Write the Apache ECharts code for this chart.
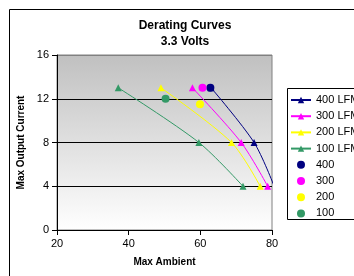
<!DOCTYPE html>
<html><head><meta charset="utf-8">
<script src="https://cdn.jsdelivr.net/npm/echarts@6/dist/echarts.min.js"></script>
<style>html,body{margin:0;padding:0;background:#fff}#c{width:354px;height:276px}</style>
</head><body><div id="c"></div>
<script>
const yLevels = [13, 8, 4];
const lfm400X = [63, 75, 80.6];
const lfm300X = [57.8, 71.4, 78.8];
const lfm200X = [49, 68.7, 76.7];
const lfm100X = [37.1, 59.6, 71.9];
const pointNames = ['400', '300', '200', '100'];
const pointX = [62.8, 60.6, 59.9, 50.3];
const pointY = [13, 13, 11.5, 12];
const lineNames = ['400 LFM', '300 LFM', '200 LFM', '100 LFM'];
const colors = ['#000080', '#FF00FF', '#FFFF00', '#339966'];
const xTicks = [20, 40, 60, 80];
const yTicks = [0, 4, 8, 12, 16];

const FONT = 'Liberation Sans, Arial, sans-serif';
const lineXs = [lfm400X, lfm300X, lfm200X, lfm100X];
const series = [];
lineNames.forEach((n, i) => {
  series.push({
    name: n, type: 'line', smooth: 0.3, clip: true,
    data: lineXs[i].map((x, j) => [x, yLevels[j]]),
    symbol: 'triangle', symbolSize: 7,
    lineStyle: { color: colors[i], width: 1 },
    itemStyle: { color: colors[i] },
    z: 3
  });
});
pointNames.forEach((n, i) => {
  series.push({
    name: n, type: 'scatter',
    data: [[pointX[i], pointY[i]]],
    symbol: 'circle', symbolSize: 8,
    itemStyle: { color: colors[i], opacity: 1 },
    z: 4
  });
});

const chart = echarts.init(document.getElementById('c'));
chart.setOption({
  animation: false,
  backgroundColor: '#fff',
  textStyle: { fontFamily: FONT },
  title: {
    text: 'Derating Curves\n3.3 Volts',
    left: 185, top: 18, textAlign: 'center', padding: 0,
    textStyle: { fontFamily: FONT, fontSize: 12, fontWeight: 'bold', color: '#000', lineHeight: 16 }
  },
  graphic: [{
    type: 'rect', shape: { x: 9.5, y: 9.5, width: 400, height: 300 },
    style: { fill: 'none', stroke: '#000', lineWidth: 1 }, z: 0
  }, {
    type: 'rect', shape: { x: 287.5, y: 88.5, width: 100, height: 131 },
    style: { fill: '#fff', stroke: '#000', lineWidth: 1 }, z: 1
  }],
  grid: {
    left: 57, right: 82, top: 55, bottom: 46, show: true,
    borderColor: '#808080', borderWidth: 1,
    backgroundColor: { type: 'linear', x: 0, y: 0, x2: 0, y2: 1,
      colorStops: [{ offset: 0, color: '#c0c0c0' }, { offset: 1, color: '#ffffff' }] }
  },
  legend: {
    orient: 'vertical', left: 290, top: 94,
    padding: 0, z: 5,
    itemWidth: 20, itemHeight: 8, itemGap: 4.2,
    textStyle: { fontFamily: FONT, fontSize: 11, color: '#000', lineHeight: 12, overflow: 'none' },
    data: lineNames.concat(pointNames)
  },
  xAxis: {
    type: 'value', min: 20, max: 80, interval: 20,
    name: 'Max Ambient', nameLocation: 'middle', nameGap: 27,
    nameTextStyle: { fontFamily: FONT, fontSize: 10, fontWeight: 'bold', color: '#000' },
    axisLine: { show: true, lineStyle: { color: '#000', width: 1 } },
    axisTick: { show: true, length: 5, lineStyle: { color: '#000' } },
    axisLabel: { fontFamily: FONT, fontSize: 11, color: '#000', margin: 8 },
    splitLine: { show: false }
  },
  yAxis: {
    type: 'value', min: 0, max: 16, interval: 4,
    name: 'Max Output Current', nameLocation: 'middle', nameGap: 24, nameRotate: 90,
    nameTextStyle: { fontFamily: FONT, fontSize: 10, fontWeight: 'bold', color: '#000' },
    axisLine: { show: true, lineStyle: { color: '#000', width: 1 } },
    axisTick: { show: true, length: 5, lineStyle: { color: '#000' } },
    axisLabel: { fontFamily: FONT, fontSize: 11, color: '#000', margin: 8 },
    splitLine: { show: true, lineStyle: { color: ['#000', '#000', '#000', '#000', '#808080'], width: 1 } }
  },
  series: series
});
</script>
</body></html>
